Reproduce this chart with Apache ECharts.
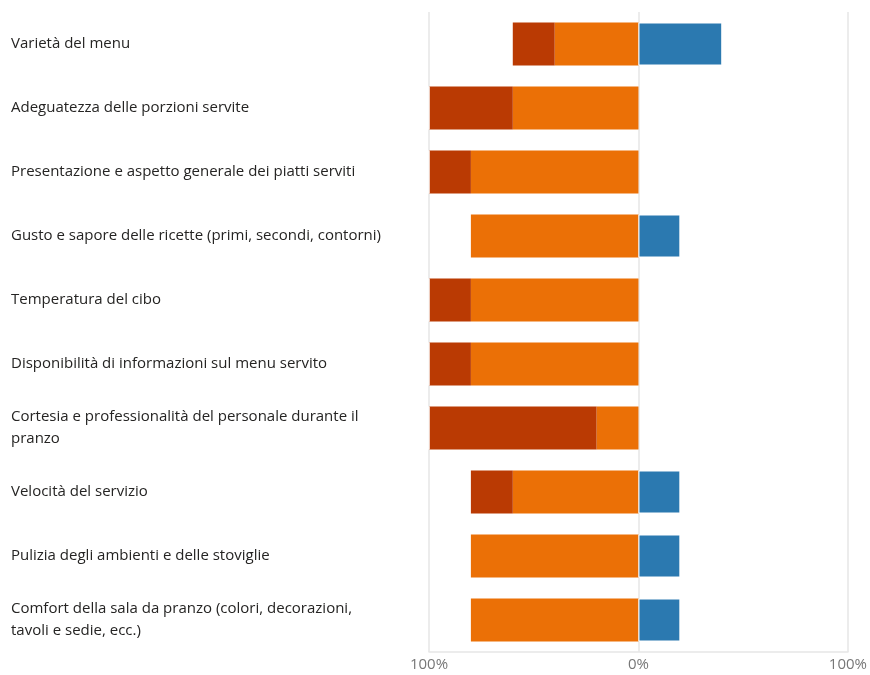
<!DOCTYPE html>
<html><head><meta charset="utf-8">
<script src="https://cdn.jsdelivr.net/npm/echarts@6/dist/echarts.min.js"></script>
<style>html,body{margin:0;padding:0;background:#fff}#c{width:870px;height:675px}</style>
</head><body><div id="c"></div>
<script>
var categories = [
  "Varietà del menu",
  "Adeguatezza delle porzioni servite",
  "Presentazione e aspetto generale dei piatti serviti",
  "Gusto e sapore delle ricette (primi, secondi, contorni)",
  "Temperatura del cibo",
  "Disponibilità di informazioni sul menu servito",
  "Cortesia e professionalità del personale durante il pranzo",
  "Velocità del servizio",
  "Pulizia degli ambienti e delle stoviglie",
  "Comfort della sala da pranzo (colori, decorazioni, tavoli e sedie, ecc.)"
];
// percent values; negative side drawn left of 0
var poco = [-40, -60, -80, -80, -80, -80, -20, -60, -80, -80];
var perNulla = [-20, -40, -20, 0, -20, -20, -80, -20, 0, 0];
var molto = [40, 0, 0, 20, 0, 0, 0, 20, 20, 20];
var xTicks = [-100, 0, 100];

var chart = echarts.init(document.getElementById('c'));
var FONT = '"Open Sans", "Noto Sans", sans-serif';
chart.setOption({
  animation: false,
  textStyle: {fontFamily: FONT},
  grid: {left: 429, right: 20, top: 12, bottom: 23},
  xAxis: {
    type: 'value', min: xTicks[0], max: xTicks[2], interval: 100,
    axisLabel: {color: '#777', fontSize: 15, fontFamily: FONT, margin: 5,
      formatter: function(v){ return Math.abs(v) + '%'; }},
    axisLine: {show: true, lineStyle: {color: '#e6e6e6', width: 1.5}},
    axisTick: {show: false},
    splitLine: {show: true, lineStyle: {color: '#e6e6e6', width: 1.5}}
  },
  yAxis: {
    type: 'category', data: categories, inverse: true,
    axisLine: {show: false}, axisTick: {show: false},
    axisLabel: {align: 'left', margin: 418, color: '#252423', fontSize: 15,
      fontFamily: FONT, width: 376, overflow: 'break', lineHeight: 22,
      padding: [4, 0, 0, 0]}
  },
  series: [
    {name: 'Poco soddisfatto', type: 'bar', stack: 'tot', data: poco, barWidth: 43,
      itemStyle: {color: '#EB7006'}},
    {name: 'Per nulla soddisfatto', type: 'bar', stack: 'tot', data: perNulla, barWidth: 43,
      itemStyle: {color: '#BA3A03'}},
    {name: 'Molto soddisfatto', type: 'bar', stack: 'tot', data: molto, barWidth: 43,
      itemStyle: {color: '#2B79B0', borderColor: '#fff', borderWidth: 1}}
  ]
});
</script></body></html>
